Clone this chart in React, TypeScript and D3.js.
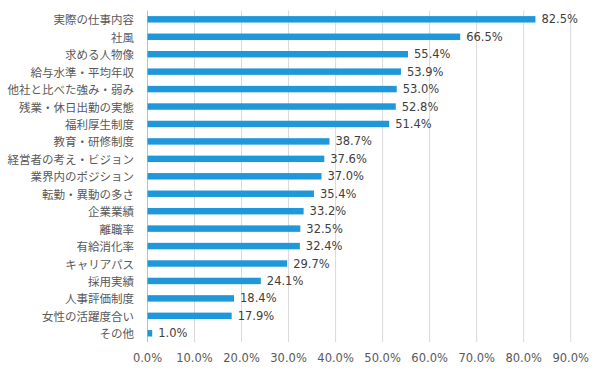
import * as d3 from "d3";

const categories = [
  "実際の仕事内容",
  "社風",
  "求める人物像",
  "給与水準・平均年収",
  "他社と比べた強み・弱み",
  "残業・休日出勤の実態",
  "福利厚生制度",
  "教育・研修制度",
  "経営者の考え・ビジョン",
  "業界内のポジション",
  "転勤・異動の多さ",
  "企業業績",
  "離職率",
  "有給消化率",
  "キャリアパス",
  "採用実績",
  "人事評価制度",
  "女性の活躍度合い",
  "その他",
];

const values = [
  82.5, 66.5, 55.4, 53.9, 53.0, 52.8, 51.4, 38.7, 37.6, 37.0, 35.4, 33.2, 32.5,
  32.4, 29.7, 24.1, 18.4, 17.9, 1.0,
];

const ticks = [0, 10, 20, 30, 40, 50, 60, 70, 80, 90];

const width = 600;
const height = 374;
const margin = { top: 10.6, right: 29.3, bottom: 32, left: 147.5 };
const jpFont = "'Noto Sans CJK JP', 'Noto Sans', sans-serif";
const numFont = "'DejaVu Sans', Verdana, sans-serif";

export default function App() {
  const x = d3
    .scaleLinear()
    .domain([0, 90])
    .range([margin.left, width - margin.right]);
  const y = d3
    .scaleBand()
    .domain(categories)
    .range([margin.top, height - margin.bottom])
    .paddingInner(0.63)
    .paddingOuter(0.315);

  const gridTop = margin.top;
  const gridBottom = height - margin.bottom;

  return (
    <svg
      width={width}
      height={height}
      style={{ position: "absolute", left: 0, top: 0, background: "#fff" }}
    >
      {ticks.map((t) => (
        <line
          key={t}
          x1={x(t)}
          x2={x(t)}
          y1={gridTop}
          y2={gridBottom}
          stroke={t === 0 ? "#bfbfbf" : "#d9d9d9"}
          strokeWidth={1}
        />
      ))}
      {categories.map((c, i) => {
        const cy = y(c)! + y.bandwidth() / 2;
        return (
          <g key={c}>
            <rect
              x={x(0)}
              y={y(c)}
              width={x(values[i]) - x(0)}
              height={y.bandwidth()}
              fill="#1f98db"
            />
            <text
              x={134}
              y={cy}
              textAnchor="end"
              dominantBaseline="central"
              fontFamily={jpFont}
              fontSize={11.5}
              fill="#595959"
            >
              {c}
            </text>
            <text
              x={x(values[i]) + 6}
              y={cy}
              dominantBaseline="central"
              fontFamily={numFont}
              fontSize={11.5}
              fill="#404040"
            >
              {values[i].toFixed(1)}%
            </text>
          </g>
        );
      })}
      {ticks.map((t) => (
        <text
          key={t}
          x={x(t)}
          y={gridBottom + 16}
          textAnchor="middle"
          dominantBaseline="central"
          fontFamily={numFont}
          fontSize={11.5}
          fill="#595959"
        >
          {t.toFixed(1)}%
        </text>
      ))}
    </svg>
  );
}
